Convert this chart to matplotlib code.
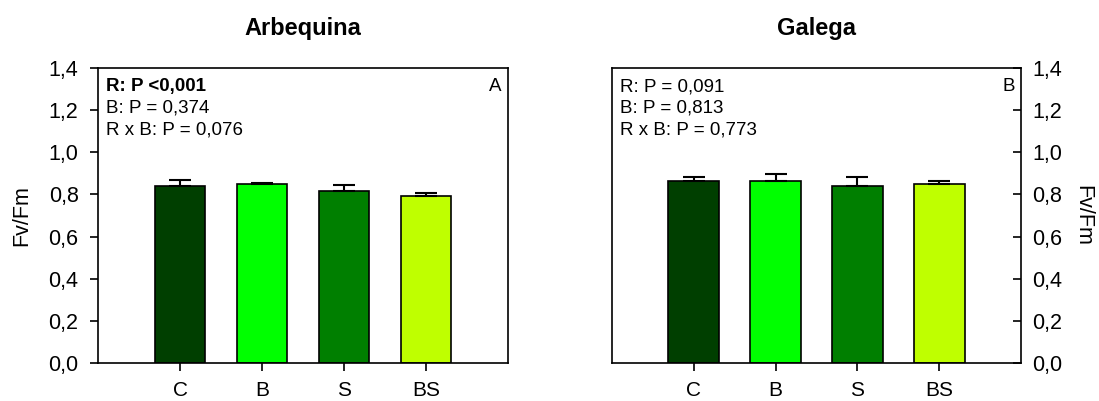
import matplotlib
matplotlib.use("Agg")
import matplotlib.pyplot as plt

plt.rcParams['font.family'] = ['Liberation Sans', 'DejaVu Sans']

categories = ["C", "B", "S", "BS"]
colors = ["#003f00", "#00ff00", "#007f00", "#bfff00"]

arbequina_vals = [0.841, 0.848, 0.818, 0.794]
arbequina_err = [0.027, 0.008, 0.028, 0.013]
galega_vals = [0.865, 0.864, 0.841, 0.848]
galega_err = [0.019, 0.032, 0.040, 0.017]

arbequina_stats = ["R: P <0,001", "B: P = 0,374", "R x B: P = 0,076"]
galega_stats = ["R: P = 0,091", "B: P = 0,813", "R x B: P = 0,773"]
yticks = [0.0, 0.2, 0.4, 0.6, 0.8, 1.0, 1.2, 1.4]
ytick_labels = ["0,0", "0,2", "0,4", "0,6", "0,8", "1,0", "1,2", "1,4"]

fig = plt.figure(figsize=(10.99, 4.01), dpi=100)
W, H = 1099, 401
ax1 = fig.add_axes([98 / W, 1 - 363 / H, 410 / W, 295 / H])
ax2 = fig.add_axes([612 / W, 1 - 363 / H, 409 / W, 295 / H])

def draw(ax, vals, errs, title, stats, bold_first, letter, right):
    x = list(range(1, len(categories) + 1))
    ax.bar(x, vals, width=0.62, color=colors, edgecolor="black", linewidth=1.2, zorder=2)
    ax.errorbar(x, vals, yerr=[[0] * len(errs), errs], fmt="none", ecolor="black",
                elinewidth=1.5, capsize=8, capthick=1.5, zorder=3)
    ax.set_xlim(0, 5)
    ax.set_ylim(0, 1.4)
    ax.set_xticks(x)
    ax.set_xticklabels(categories, fontsize=15)
    ax.set_yticks(yticks)
    ax.set_yticklabels(ytick_labels, fontsize=15.5)
    for s in ax.spines.values():
        s.set_linewidth(1.2)
    ax.tick_params(axis="x", direction="out", length=6, width=1.2, pad=7)
    if right:
        ax.yaxis.tick_right()
        ax.tick_params(axis="y", direction="in", length=6, width=1.2, pad=8)
        ax.yaxis.set_label_position("right")
        ax.set_ylabel("Fv/Fm", fontsize=15.5, rotation=270, labelpad=22)
    else:
        ax.tick_params(axis="y", direction="out", length=6, width=1.2, pad=8)
        ax.set_ylabel("Fv/Fm", fontsize=15.5, labelpad=12)
    ax.set_title(title, fontsize=17, fontweight="bold", pad=24)
    for i, t in enumerate(stats):
        ax.text(0.02, 0.965 - i * 0.073, t, transform=ax.transAxes, fontsize=13.5,
                fontweight="bold" if (i == 0 and bold_first) else "normal",
                ha="left", va="top")
    ax.text(0.985, 0.965, letter, transform=ax.transAxes, fontsize=13.5, ha="right", va="top")

draw(ax1, arbequina_vals, arbequina_err, "Arbequina", arbequina_stats, True, "A", False)
draw(ax2, galega_vals, galega_err, "Galega", galega_stats, False, "B", True)

fig.savefig("out.png", dpi=100)
